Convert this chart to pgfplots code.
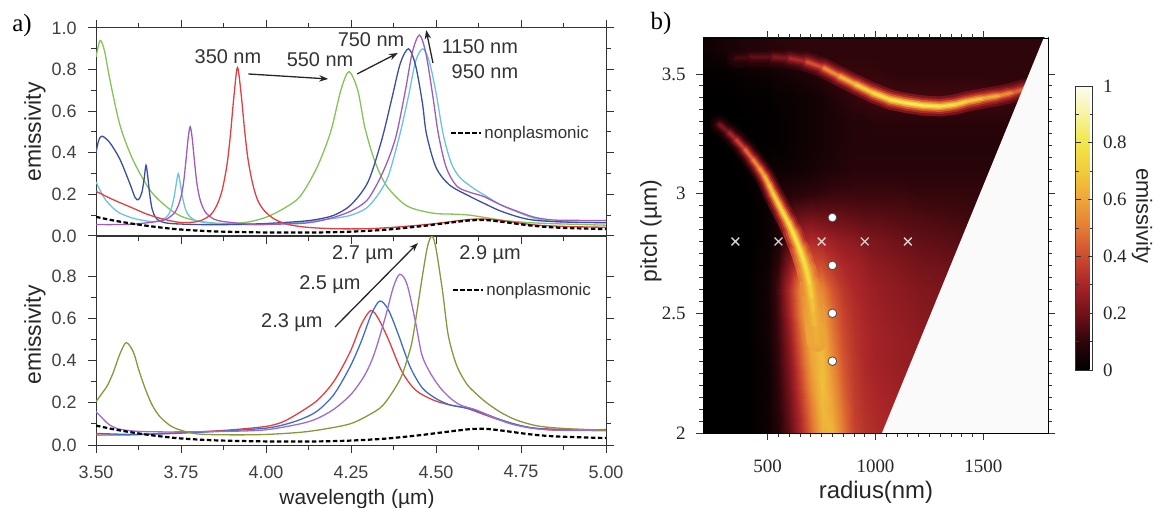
\documentclass[border=0pt]{standalone}
\usepackage{fontspec}
\setmainfont{Liberation Sans}
\newfontfamily\serif{Liberation Serif}
\usepackage{pgfplots}
\usepackage{pgfplotstable}
\pgfplotsset{compat=1.18}
\usetikzlibrary{arrows.meta}
\newcommand\fsz[1]{\fontsize{#1}{#1}\selectfont}

\definecolor{cRed}{RGB}{224,64,64}
\definecolor{cGreen}{RGB}{130,196,86}
\definecolor{cNavy}{RGB}{58,78,162}
\definecolor{cCyan}{RGB}{108,194,224}
\definecolor{cPurple}{RGB}{160,92,186}
\definecolor{cBlue}{RGB}{60,110,196}
\definecolor{cViolet}{RGB}{158,108,208}
\definecolor{cOlive}{RGB}{140,150,60}

% ridge tracks of the emissivity map: radius, pitch, crest value, local background
\pgfplotstableread{
r p c g
354 3.565 0.12 0.04
420 3.570 0.15 0.05
525 3.570 0.20 0.06
600 3.565 0.26 0.07
680 3.551 0.35 0.08
760 3.525 0.48 0.09
835 3.489 0.60 0.10
910 3.455 0.68 0.10
990 3.420 0.75 0.11
1070 3.392 0.80 0.12
1145 3.378 0.82 0.12
1220 3.368 0.82 0.12
1300 3.364 0.80 0.12
1370 3.372 0.76 0.12
1424 3.385 0.72 0.12
1500 3.398 0.66 0.12
1579 3.410 0.58 0.12
1640 3.423 0.50 0.12
1690 3.436 0.42 0.12
}\upperridge

\pgfplotstableread{
r p c g
277 3.288 0.18 0.00
320 3.255 0.26 0.00
354 3.225 0.34 0.00
395 3.185 0.42 0.00
432 3.142 0.50 0.01
462 3.105 0.56 0.02
486 3.072 0.62 0.02
507 3.035 0.67 0.03
525 3.000 0.71 0.04
548 2.960 0.74 0.06
571 2.920 0.76 0.08
596 2.878 0.78 0.12
618 2.836 0.79 0.18
649 2.767 0.80 0.30
665 2.725 0.79 0.36
680 2.680 0.77 0.40
695 2.620 0.74 0.48
705 2.560 0.70 0.52
712 2.500 0.67 0.55
720 2.440 0.64 0.58
728 2.380 0.60 0.60
}\lowerridge

\pgfplotstableread{
x y
3.50 0.092
3.55 0.075
3.60 0.061
3.65 0.049
3.70 0.039
3.75 0.031
3.85 0.022
4.00 0.017
4.15 0.017
4.25 0.021
4.35 0.030
4.45 0.046
4.52 0.060
4.60 0.075
4.65 0.076
4.70 0.067
4.78 0.050
4.86 0.040
5.00 0.033
}\nonplasmonic

\pgfplotsset{
  spec/.style={
    scale only axis, width=510bp,
    xmin=3.5, xmax=5, ymin=0,
    xtick={3.5,3.75,4,4.25,4.5,4.75,5},
    minor x tick num=1, minor y tick num=1,
    tick align=outside, major tick length=8bp, minor tick length=5bp,
    axis line style={line width=1bp, black!80},
    tick style={line width=1bp, black!80},
    tick label style={font=\fsz{18}, text=black!75},
    /pgf/number format/assume math mode=true,
    yticklabel style={/pgf/number format/fixed, /pgf/number format/fixed zerofill,
      /pgf/number format/precision=1, xshift=-8bp},
    xticklabel style={/pgf/number format/fixed, /pgf/number format/fixed zerofill,
      /pgf/number format/precision=2, yshift=-9bp},
    every axis plot/.append style={line width=1.3bp},
    legend style={draw=none, fill=none, font=\fsz{17}, text=black!80,
      inner sep=0pt, anchor=west, nodes={inner sep=2bp}},
    legend image code/.code={\draw[#1] (0bp,0bp) -- (30bp,0bp);},
  },
  nonplas/.style={black, line width=2.2bp, dash pattern=on 4.5bp off 2.5bp},
  glow/.style n args={2}{mesh, line width=#1, line cap=round, line join=round,
    point meta={\thisrow{g}+#2*(\thisrow{c}-\thisrow{g})}, forget plot},
}
\tikzset{
  note/.style={font=\fsz{20}, text=black!80},
  pointer/.style={-{Stealth[length=9bp,width=6.5bp]}, line width=1.3bp, black!85},
}

\begin{document}
\begin{tikzpicture}
\useasboundingbox (0,0) rectangle (1155bp,508bp);

% ---------------- lower spectra: pitch varied ----------------
\begin{axis}[spec, at={(96bp,63bp)}, anchor=south west, height=209bp,
  ymax=0.99, ytick={0,0.2,0.4,0.6,0.8}, xtick pos=bottom, ytick pos=both,
  legend style={at={(0.698,0.742)}}]
\addplot[cRed, smooth, forget plot] table {
3.50 0.047
3.60 0.048
3.70 0.055
3.80 0.062
3.90 0.072
4.00 0.088
4.05 0.110
4.10 0.155
4.15 0.210
4.19 0.280
4.218 0.350
4.25 0.450
4.28 0.570
4.308 0.637
4.33 0.600
4.36 0.500
4.399 0.350
4.44 0.260
4.492 0.213
4.54 0.190
4.59 0.174
4.64 0.145
4.688 0.118
4.74 0.095
4.786 0.080
4.85 0.075
4.92 0.070
5.00 0.073
};
\addplot[cBlue, smooth, forget plot] table {
3.50 0.055
3.60 0.050
3.70 0.053
3.80 0.060
3.90 0.068
4.00 0.080
4.05 0.095
4.10 0.120
4.15 0.160
4.20 0.240
4.247 0.370
4.28 0.490
4.31 0.620
4.335 0.682
4.36 0.640
4.39 0.520
4.424 0.370
4.46 0.270
4.50 0.220
4.541 0.190
4.59 0.175
4.64 0.150
4.69 0.120
4.74 0.095
4.79 0.080
4.85 0.072
5.00 0.070
};
\addplot[cViolet, smooth, forget plot] table {
3.50 0.158
3.52 0.125
3.54 0.095
3.57 0.075
3.62 0.065
3.70 0.062
3.80 0.063
3.90 0.065
4.00 0.072
4.10 0.100
4.15 0.125
4.20 0.170
4.25 0.240
4.29 0.330
4.318 0.430
4.35 0.600
4.375 0.750
4.394 0.809
4.415 0.760
4.44 0.580
4.458 0.430
4.48 0.350
4.51 0.276
4.54 0.225
4.571 0.190
4.62 0.165
4.67 0.130
4.72 0.100
4.78 0.080
4.85 0.070
5.00 0.068
};
\addplot[cOlive, smooth, forget plot] table {
3.50 0.205
3.52 0.250
3.533 0.280
3.55 0.340
3.57 0.430
3.589 0.485
3.61 0.440
3.625 0.360
3.644 0.270
3.665 0.190
3.688 0.134
3.72 0.090
3.75 0.070
3.80 0.052
3.90 0.048
4.00 0.050
4.10 0.060
4.17 0.075
4.247 0.100
4.30 0.140
4.345 0.190
4.394 0.310
4.42 0.430
4.433 0.520
4.46 0.800
4.475 0.940
4.488 0.990
4.50 0.930
4.52 0.720
4.536 0.520
4.56 0.380
4.59 0.290
4.62 0.240
4.649 0.200
4.69 0.155
4.737 0.118
4.80 0.090
4.88 0.078
5.00 0.070
};
\addplot[nonplas, smooth] table[x=x, y=y] {\nonplasmonic};
\addlegendentry{nonplasmonic}
\draw[pointer] (axis cs:4.203,0.559) -- (axis cs:4.447,0.957);
\node[note] at (axis cs:4.076,0.578) {2.3 µm};
\node[note] at (axis cs:4.188,0.758) {2.5 µm};
\node[note] at (axis cs:4.285,0.900) {2.7 µm};
\node[note] at (axis cs:4.659,0.900) {2.9 µm};
\end{axis}

% ---------------- upper spectra: radius varied ----------------
\begin{axis}[spec, at={(96bp,272bp)}, anchor=south west, height=208bp,
  ymax=1, ytick={0,0.2,0.4,0.6,0.8,1}, xticklabels={},
  legend style={at={(0.694,0.495)}}]
\addplot[cGreen, smooth, forget plot] table {
3.50 0.860
3.512 0.940
3.525 0.890
3.541 0.750
3.571 0.530
3.609 0.365
3.659 0.220
3.708 0.140
3.75 0.095
3.80 0.072
3.85 0.062
3.90 0.060
3.95 0.068
4.00 0.090
4.05 0.130
4.10 0.190
4.15 0.330
4.19 0.500
4.22 0.700
4.244 0.790
4.27 0.700
4.291 0.520
4.32 0.360
4.355 0.240
4.414 0.145
4.49 0.110
4.55 0.105
4.60 0.100
4.70 0.075
4.80 0.062
5.00 0.052
};
\addplot[cCyan, smooth, forget plot] table {
3.50 0.260
3.515 0.210
3.53 0.170
3.55 0.135
3.57 0.110
3.61 0.085
3.66 0.070
3.692 0.075
3.712 0.100
3.722 0.135
3.730 0.190
3.736 0.250
3.742 0.300
3.748 0.250
3.754 0.190
3.762 0.135
3.772 0.100
3.792 0.075
3.83 0.063
3.90 0.056
4.00 0.055
4.10 0.065
4.20 0.085
4.25 0.100
4.296 0.135
4.33 0.200
4.36 0.290
4.394 0.490
4.42 0.680
4.44 0.840
4.461 0.900
4.48 0.840
4.50 0.690
4.521 0.490
4.545 0.350
4.571 0.280
4.61 0.230
4.649 0.190
4.69 0.150
4.737 0.117
4.79 0.085
4.845 0.070
4.92 0.066
5.00 0.065
};
\addplot[cNavy, smooth, forget plot] table {
3.50 0.400
3.508 0.460
3.518 0.480
3.54 0.450
3.57 0.370
3.60 0.250
3.615 0.185
3.625 0.175
3.635 0.210
3.642 0.280
3.647 0.340
3.652 0.290
3.658 0.200
3.665 0.130
3.675 0.090
3.69 0.070
3.72 0.060
3.80 0.055
3.90 0.055
4.00 0.060
4.10 0.070
4.15 0.080
4.20 0.100
4.25 0.150
4.30 0.260
4.34 0.460
4.37 0.660
4.395 0.830
4.419 0.900
4.44 0.820
4.46 0.640
4.472 0.490
4.50 0.330
4.54 0.245
4.60 0.190
4.65 0.150
4.69 0.120
4.75 0.088
4.80 0.074
4.90 0.066
5.00 0.064
};
\addplot[cPurple, smooth, forget plot] table {
3.50 0.055
3.60 0.056
3.677 0.069
3.707 0.081
3.732 0.114
3.747 0.170
3.757 0.250
3.765 0.370
3.771 0.470
3.777 0.525
3.783 0.470
3.789 0.370
3.797 0.250
3.807 0.170
3.822 0.114
3.847 0.081
3.877 0.069
3.95 0.057
4.00 0.056
4.10 0.060
4.15 0.070
4.20 0.090
4.25 0.120
4.296 0.170
4.33 0.260
4.36 0.370
4.384 0.490
4.41 0.700
4.43 0.880
4.451 0.966
4.47 0.880
4.49 0.680
4.507 0.490
4.53 0.330
4.561 0.240
4.60 0.210
4.64 0.190
4.69 0.150
4.737 0.120
4.79 0.090
4.845 0.077
4.92 0.075
5.00 0.075
};
\addplot[cRed, smooth, forget plot] table {
3.50 0.215
3.55 0.175
3.60 0.140
3.65 0.105
3.70 0.080
3.75 0.065
3.80 0.070
3.836 0.100
3.856 0.150
3.871 0.220
3.885 0.340
3.895 0.480
3.905 0.660
3.916 0.810
3.927 0.680
3.937 0.510
3.947 0.370
3.961 0.250
3.976 0.170
3.996 0.120
4.026 0.080
4.066 0.055
4.12 0.042
4.20 0.035
4.30 0.035
4.40 0.045
4.50 0.060
4.60 0.080
4.66 0.080
4.72 0.068
4.80 0.052
4.90 0.045
5.00 0.042
};
\addplot[nonplas, smooth] table[x=x, y=y] {\nonplasmonic};
\addlegendentry{nonplasmonic}
\draw[pointer] (axis cs:3.948,0.779) -- (axis cs:4.183,0.755);
\draw[pointer] (axis cs:4.268,0.779) -- (axis cs:4.388,0.880);
\draw[pointer] (axis cs:4.491,0.832) -- (axis cs:4.471,0.990);
\node[note] at (axis cs:3.888,0.860) {350 nm};
\node[note] at (axis cs:4.159,0.846) {550 nm};
\node[note] at (axis cs:4.309,0.942) {750 nm};
\node[note] at (axis cs:4.629,0.909) {1150 nm};
\node[note] at (axis cs:4.644,0.788) {950 nm};
\end{axis}

% ---------------- emissivity map ----------------
\begin{axis}[
  at={(703bp,75bp)}, anchor=south west,
  scale only axis, width=345bp, height=395bp,
  xmin=200, xmax=1800, ymin=2, ymax=3.65,
  xtick={500,1000,1500}, ytick={2,2.5,3,3.5},
  minor x tick num=9, minor y tick num=9,
  tick align=outside, major tick length=7bp, minor tick length=4bp,
  axis line style={line width=0.9bp, black},
  tick style={line width=0.8bp, black!80},
  tick label style={font=\serif\fsz{19}, text=black!85},
  /pgf/number format/assume math mode=true,
  /pgf/number format/1000 sep={},
  xticklabel style={yshift=-16bp},
  yticklabel style={xshift=-7bp},
  axis on top,
  colormap={emis}{rgb255=(0,0,0) rgb255=(45,5,10) rgb255=(112,18,25)
    rgb255=(168,36,40) rgb255=(205,75,46) rgb255=(228,124,52)
    rgb255=(237,166,56) rgb255=(241,203,60) rgb255=(242,230,72)
    rgb255=(247,243,160) rgb255=(252,252,240)},
  point meta min=0, point meta max=1,
  colorbar,
  colorbar style={
    at={(parent axis.north east)}, anchor=north west,
    xshift=19bp, yshift=-48bp,
    scale only axis, width=17bp, height=284bp,
    ytick={0,0.2,0.4,0.6,0.8,1}, minor y tick num=1,
    ytick pos=both, yticklabel pos=right,
    tick align=inside, major tick length=5bp, minor tick length=3bp,
    tick style={line width=0.8bp, black!80},
    axis line style={line width=0.9bp, black!80},
    yticklabel style={font=\serif\fsz{19}, text=black!85, xshift=7bp},
    /pgf/number format/assume math mode=true,
  },
]
\addplot[surf, shader=interp, mesh/cols=22, point meta=explicit, forget plot] coordinates {
(200,2.0)[0] (300,2.0)[0] (400,2.0)[0] (500,2.0)[0.03] (550,2.0)[0.08] (600,2.0)[0.17] (650,2.0)[0.30] (700,2.0)[0.46] (750,2.0)[0.62] (800,2.0)[0.64] (850,2.0)[0.50] (900,2.0)[0.38] (950,2.0)[0.34] (1000,2.0)[0.32] (1100,2.0)[0.30] (1200,2.0)[0.28] (1300,2.0)[0.26] (1400,2.0)[0.24] (1500,2.0)[0.22] (1600,2.0)[0.21] (1700,2.0)[0.20] (1800,2.0)[0.20]

(200,2.1)[0] (300,2.1)[0] (400,2.1)[0] (500,2.1)[0.03] (550,2.1)[0.09] (600,2.1)[0.19] (650,2.1)[0.33] (700,2.1)[0.50] (750,2.1)[0.65] (800,2.1)[0.60] (850,2.1)[0.47] (900,2.1)[0.37] (950,2.1)[0.33] (1000,2.1)[0.31] (1100,2.1)[0.29] (1200,2.1)[0.27] (1300,2.1)[0.25] (1400,2.1)[0.23] (1500,2.1)[0.21] (1600,2.1)[0.20] (1700,2.1)[0.20] (1800,2.1)[0.20]

(200,2.2)[0] (300,2.2)[0] (400,2.2)[0] (500,2.2)[0.03] (550,2.2)[0.10] (600,2.2)[0.21] (650,2.2)[0.37] (700,2.2)[0.55] (750,2.2)[0.67] (800,2.2)[0.57] (850,2.2)[0.44] (900,2.2)[0.36] (950,2.2)[0.32] (1000,2.2)[0.30] (1100,2.2)[0.28] (1200,2.2)[0.27] (1300,2.2)[0.24] (1400,2.2)[0.22] (1500,2.2)[0.20] (1600,2.2)[0.20] (1700,2.2)[0.19] (1800,2.2)[0.19]

(200,2.3)[0] (300,2.3)[0] (400,2.3)[0] (500,2.3)[0.03] (550,2.3)[0.11] (600,2.3)[0.23] (650,2.3)[0.41] (700,2.3)[0.59] (750,2.3)[0.66] (800,2.3)[0.54] (850,2.3)[0.42] (900,2.3)[0.35] (950,2.3)[0.31] (1000,2.3)[0.29] (1100,2.3)[0.27] (1200,2.3)[0.26] (1300,2.3)[0.23] (1400,2.3)[0.21] (1500,2.3)[0.19] (1600,2.3)[0.19] (1700,2.3)[0.18] (1800,2.3)[0.18]

(200,2.4)[0] (300,2.4)[0] (400,2.4)[0] (500,2.4)[0.04] (550,2.4)[0.12] (600,2.4)[0.26] (650,2.4)[0.45] (700,2.4)[0.63] (750,2.4)[0.64] (800,2.4)[0.50] (850,2.4)[0.40] (900,2.4)[0.34] (950,2.4)[0.31] (1000,2.4)[0.29] (1100,2.4)[0.27] (1200,2.4)[0.25] (1300,2.4)[0.24] (1400,2.4)[0.21] (1500,2.4)[0.19] (1600,2.4)[0.18] (1700,2.4)[0.17] (1800,2.4)[0.17]

(200,2.5)[0] (300,2.5)[0] (400,2.5)[0] (500,2.5)[0.04] (550,2.5)[0.13] (600,2.5)[0.30] (650,2.5)[0.50] (700,2.5)[0.67] (750,2.5)[0.60] (800,2.5)[0.47] (850,2.5)[0.38] (900,2.5)[0.33] (950,2.5)[0.30] (1000,2.5)[0.28] (1100,2.5)[0.26] (1200,2.5)[0.24] (1300,2.5)[0.23] (1400,2.5)[0.20] (1500,2.5)[0.18] (1600,2.5)[0.17] (1700,2.5)[0.16] (1800,2.5)[0.16]

(200,2.6)[0] (300,2.6)[0] (400,2.6)[0] (500,2.6)[0.04] (550,2.6)[0.14] (600,2.6)[0.32] (650,2.6)[0.52] (700,2.6)[0.62] (750,2.6)[0.52] (800,2.6)[0.42] (850,2.6)[0.35] (900,2.6)[0.31] (950,2.6)[0.29] (1000,2.6)[0.27] (1100,2.6)[0.25] (1200,2.6)[0.23] (1300,2.6)[0.22] (1400,2.6)[0.21] (1500,2.6)[0.18] (1600,2.6)[0.16] (1700,2.6)[0.15] (1800,2.6)[0.15]

(200,2.7)[0] (300,2.7)[0] (400,2.7)[0] (500,2.7)[0.03] (550,2.7)[0.10] (600,2.7)[0.24] (650,2.7)[0.38] (700,2.7)[0.42] (750,2.7)[0.40] (800,2.7)[0.35] (850,2.7)[0.31] (900,2.7)[0.29] (950,2.7)[0.27] (1000,2.7)[0.25] (1100,2.7)[0.23] (1200,2.7)[0.21] (1300,2.7)[0.20] (1400,2.7)[0.19] (1500,2.7)[0.17] (1600,2.7)[0.15] (1700,2.7)[0.14] (1800,2.7)[0.14]

(200,2.8)[0] (300,2.8)[0] (400,2.8)[0] (500,2.8)[0.02] (550,2.8)[0.06] (600,2.8)[0.16] (650,2.8)[0.28] (700,2.8)[0.32] (750,2.8)[0.30] (800,2.8)[0.28] (850,2.8)[0.26] (900,2.8)[0.25] (950,2.8)[0.23] (1000,2.8)[0.22] (1100,2.8)[0.20] (1200,2.8)[0.18] (1300,2.8)[0.17] (1400,2.8)[0.16] (1500,2.8)[0.14] (1600,2.8)[0.13] (1700,2.8)[0.12] (1800,2.8)[0.12]

(200,2.9)[0] (300,2.9)[0] (400,2.9)[0] (500,2.9)[0.02] (550,2.9)[0.07] (600,2.9)[0.15] (650,2.9)[0.20] (700,2.9)[0.21] (750,2.9)[0.20] (800,2.9)[0.19] (850,2.9)[0.19] (900,2.9)[0.18] (950,2.9)[0.17] (1000,2.9)[0.17] (1100,2.9)[0.16] (1200,2.9)[0.15] (1300,2.9)[0.14] (1400,2.9)[0.13] (1500,2.9)[0.12] (1600,2.9)[0.12] (1700,2.9)[0.11] (1800,2.9)[0.11]

(200,3.0)[0] (300,3.0)[0] (400,3.0)[0] (500,3.0)[0.03] (550,3.0)[0.06] (600,3.0)[0.08] (650,3.0)[0.09] (700,3.0)[0.10] (750,3.0)[0.11] (800,3.0)[0.12] (850,3.0)[0.12] (900,3.0)[0.12] (950,3.0)[0.12] (1000,3.0)[0.12] (1100,3.0)[0.12] (1200,3.0)[0.11] (1300,3.0)[0.11] (1400,3.0)[0.11] (1500,3.0)[0.11] (1600,3.0)[0.10] (1700,3.0)[0.10] (1800,3.0)[0.10]

(200,3.1)[0] (300,3.1)[0] (400,3.1)[0.01] (500,3.1)[0.02] (550,3.1)[0.03] (600,3.1)[0.03] (650,3.1)[0.04] (700,3.1)[0.05] (750,3.1)[0.06] (800,3.1)[0.07] (850,3.1)[0.08] (900,3.1)[0.09] (950,3.1)[0.09] (1000,3.1)[0.09] (1100,3.1)[0.09] (1200,3.1)[0.09] (1300,3.1)[0.09] (1400,3.1)[0.09] (1500,3.1)[0.09] (1600,3.1)[0.09] (1700,3.1)[0.09] (1800,3.1)[0.09]

(200,3.2)[0] (300,3.2)[0] (400,3.2)[0.01] (500,3.2)[0.01] (550,3.2)[0.01] (600,3.2)[0.02] (650,3.2)[0.03] (700,3.2)[0.04] (750,3.2)[0.05] (800,3.2)[0.06] (850,3.2)[0.07] (900,3.2)[0.08] (950,3.2)[0.08] (1000,3.2)[0.08] (1100,3.2)[0.08] (1200,3.2)[0.08] (1300,3.2)[0.08] (1400,3.2)[0.08] (1500,3.2)[0.08] (1600,3.2)[0.08] (1700,3.2)[0.08] (1800,3.2)[0.08]

(200,3.3)[0] (300,3.3)[0] (400,3.3)[0] (500,3.3)[0.01] (550,3.3)[0.01] (600,3.3)[0.02] (650,3.3)[0.03] (700,3.3)[0.04] (750,3.3)[0.05] (800,3.3)[0.06] (850,3.3)[0.07] (900,3.3)[0.08] (950,3.3)[0.08] (1000,3.3)[0.09] (1100,3.3)[0.09] (1200,3.3)[0.09] (1300,3.3)[0.09] (1400,3.3)[0.09] (1500,3.3)[0.09] (1600,3.3)[0.09] (1700,3.3)[0.09] (1800,3.3)[0.09]

(200,3.4)[0] (300,3.4)[0] (400,3.4)[0.01] (500,3.4)[0.01] (550,3.4)[0.02] (600,3.4)[0.02] (650,3.4)[0.03] (700,3.4)[0.04] (750,3.4)[0.05] (800,3.4)[0.07] (850,3.4)[0.09] (900,3.4)[0.11] (950,3.4)[0.12] (1000,3.4)[0.13] (1100,3.4)[0.13] (1200,3.4)[0.13] (1300,3.4)[0.13] (1400,3.4)[0.13] (1500,3.4)[0.13] (1600,3.4)[0.12] (1700,3.4)[0.12] (1800,3.4)[0.12]

(200,3.5)[0.01] (300,3.5)[0.01] (400,3.5)[0.02] (500,3.5)[0.03] (550,3.5)[0.04] (600,3.5)[0.05] (650,3.5)[0.06] (700,3.5)[0.07] (750,3.5)[0.09] (800,3.5)[0.10] (850,3.5)[0.11] (900,3.5)[0.11] (950,3.5)[0.11] (1000,3.5)[0.11] (1100,3.5)[0.10] (1200,3.5)[0.10] (1300,3.5)[0.10] (1400,3.5)[0.10] (1500,3.5)[0.10] (1600,3.5)[0.10] (1700,3.5)[0.10] (1800,3.5)[0.10]

(200,3.6)[0.03] (300,3.6)[0.05] (400,3.6)[0.07] (500,3.6)[0.08] (550,3.6)[0.09] (600,3.6)[0.09] (650,3.6)[0.10] (700,3.6)[0.10] (750,3.6)[0.10] (800,3.6)[0.10] (850,3.6)[0.10] (900,3.6)[0.10] (950,3.6)[0.10] (1000,3.6)[0.10] (1100,3.6)[0.10] (1200,3.6)[0.10] (1300,3.6)[0.10] (1400,3.6)[0.10] (1500,3.6)[0.10] (1600,3.6)[0.10] (1700,3.6)[0.10] (1800,3.6)[0.10]

(200,3.7)[0.04] (300,3.7)[0.06] (400,3.7)[0.08] (500,3.7)[0.09] (550,3.7)[0.10] (600,3.7)[0.10] (650,3.7)[0.10] (700,3.7)[0.10] (750,3.7)[0.10] (800,3.7)[0.10] (850,3.7)[0.10] (900,3.7)[0.10] (950,3.7)[0.10] (1000,3.7)[0.10] (1100,3.7)[0.10] (1200,3.7)[0.10] (1300,3.7)[0.10] (1400,3.7)[0.10] (1500,3.7)[0.10] (1600,3.7)[0.10] (1700,3.7)[0.10] (1800,3.7)[0.10]
};
% glowing resonance ridges, outer halo to bright core
\addplot[glow={20bp}{0.14}] table[x=r, y=p] {\upperridge};
\addplot[glow={20bp}{0.14}] table[x=r, y=p] {\lowerridge};
\addplot[glow={15bp}{0.28}] table[x=r, y=p] {\upperridge};
\addplot[glow={15bp}{0.28}] table[x=r, y=p] {\lowerridge};
\addplot[glow={11bp}{0.45}] table[x=r, y=p] {\upperridge};
\addplot[glow={11bp}{0.45}] table[x=r, y=p] {\lowerridge};
\addplot[glow={7.5bp}{0.65}] table[x=r, y=p] {\upperridge};
\addplot[glow={7.5bp}{0.65}] table[x=r, y=p] {\lowerridge};
\addplot[glow={4.5bp}{0.85}] table[x=r, y=p] {\upperridge};
\addplot[glow={4.5bp}{0.85}] table[x=r, y=p] {\lowerridge};
\addplot[glow={2.2bp}{1}] table[x=r, y=p] {\upperridge};
\addplot[glow={2.2bp}{1}] table[x=r, y=p] {\lowerridge};
% geometrically excluded region (radius too large for the pitch)
\addplot[fill=white!98!black, draw=none, forget plot] coordinates {
(1030,2.0) (1780,3.65) (1820,3.67) (1820,1.98) (1030,1.98)} -- cycle;
% sampled geometries
\addplot[only marks, mark=x, mark size=5.5bp, draw=white!82!black,
  line width=1.3bp, forget plot] coordinates {
(350,2.8) (550,2.8) (750,2.8) (950,2.8) (1150,2.8)};
\addplot[only marks, mark=*, mark size=4.3bp,
  mark options={fill=white, draw=black!70, line width=0.8bp}, forget plot] coordinates {
(800,2.9) (800,2.7) (800,2.5) (800,2.3)};
\end{axis}

% panel letters and axis titles
\node[font=\serif\fsz{25}] at (22bp,482bp) {a)};
\node[font=\serif\fsz{25}] at (661bp,484bp) {b)};
\node[rotate=90, font=\fsz{23}, text=black!85] at (35bp,376bp) {emissivity};
\node[rotate=90, font=\fsz{23}, text=black!85] at (35bp,173bp) {emissivity};
\node[anchor=base, font=\fsz{21}, text=black!85] at (357bp,4bp) {wavelength (µm)};
\node[rotate=90, font=\fsz{23}, text=black!85] at (651bp,277bp) {pitch (µm)};
\node[anchor=base, font=\fsz{24}, text=black!85] at (876bp,10bp) {radius(nm)};
\node[rotate=-90, font=\fsz{22}, text=black!85] at (1142bp,292bp) {emissivity};
\end{tikzpicture}
\end{document}
